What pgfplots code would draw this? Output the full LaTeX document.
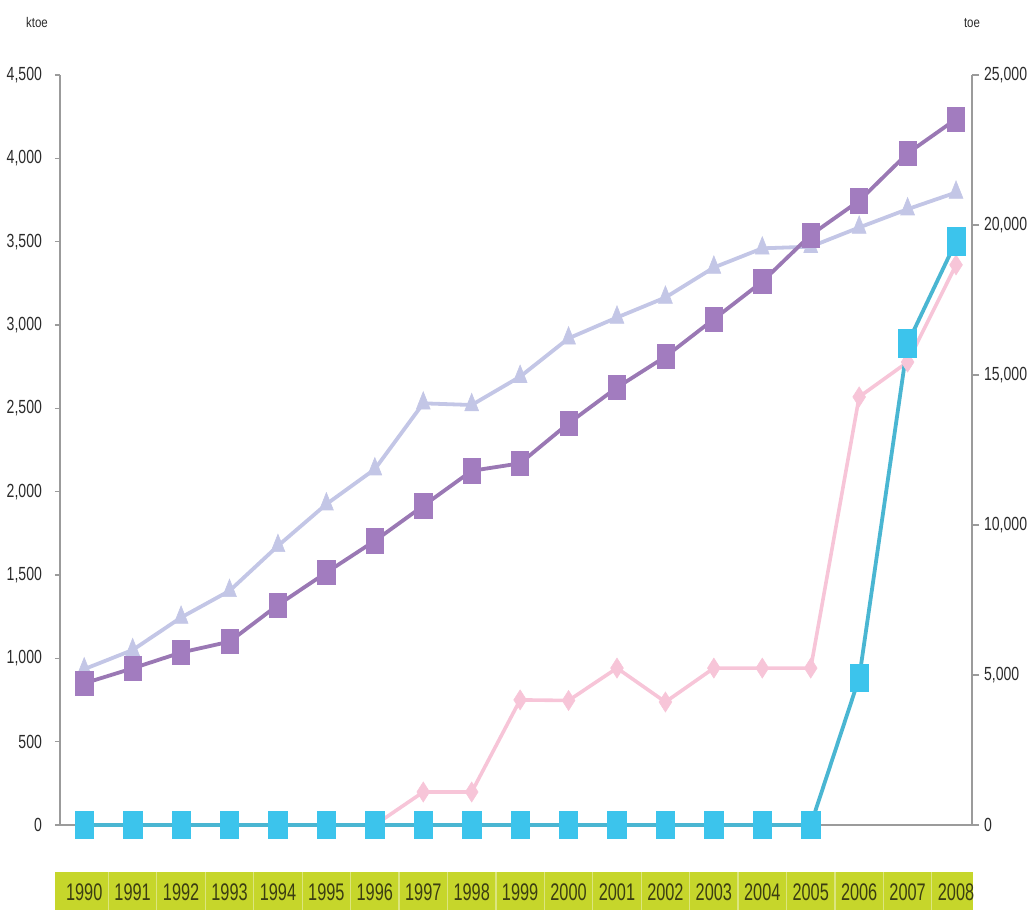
\documentclass[border=0pt]{standalone}
\usepackage{fontspec}
\setmainfont{Liberation Sans}[FakeStretch=0.82]
\newfontfamily\tickfont{Liberation Sans}[FakeStretch=0.74]
\newfontfamily\yearfont{Liberation Sans}[FakeStretch=0.68]
\usepackage{pgfplots}
\usepackage{pgfplotstable}
\pgfplotsset{compat=1.18}

\definecolor{purp}{HTML}{A27CBF}
\definecolor{purpline}{HTML}{9A78B4}
\definecolor{lav}{HTML}{C3C6E6}
\definecolor{pinkc}{HTML}{F7C5D8}
\definecolor{cyanm}{HTML}{3CC4EC}
\definecolor{cyanl}{HTML}{4AB6D2}
\definecolor{axgray}{HTML}{9B9B9B}
\definecolor{stripc}{HTML}{C6D62B}
\definecolor{sepc}{HTML}{DCE57E}
\definecolor{yeartxt}{HTML}{3B3D12}
\definecolor{ticktxt}{HTML}{2A2A2A}

% left axis (ktoe)
\pgfplotstableread{
x purple lav
0 850 935
1 940 1050
2 1035 1245
3 1100 1405
4 1320 1675
5 1515 1925
6 1705 2135
7 1915 2530
8 2125 2520
9 2170 2690
10 2410 2920
11 2625 3045
12 2810 3165
13 3035 3345
14 3260 3460
15 3540 3470
16 3745 3585
17 4030 3695
18 4235 3795
}\leftdata

% right axis (toe)
\pgfplotstableread{
x pink
6 0
7 1100
8 1100
9 4170
10 4150
11 5230
12 4100
13 5230
14 5230
15 5230
16 14270
17 15430
18 18670
}\pinkdata

\pgfplotstableread{
x cyan
0 0
1 0
2 0
3 0
4 0
5 0
6 0
7 0
8 0
9 0
10 0
11 0
12 0
13 0
14 0
15 0
16 4900
17 16050
18 19450
}\cyandata

\pgfplotsset{
  common/.style={
    scale only axis, width=456pt, height=375pt,
    xmin=-0.5, xmax=18.33, ymin=0,
    clip=false,
    tick align=outside,
    axis line style={draw=axgray, line width=1pt},
    ytick style={draw=axgray, line width=0.8pt},
    yticklabel style={font=\tickfont\fontsize{9.5}{10}\selectfont, text=ticktxt,
      /pgf/number format/fixed, /pgf/number format/1000 sep={,},
      /pgf/number format/assume math mode=true},
    scaled y ticks=false,
  }
}

\begin{document}
\begin{tikzpicture}
\begin{axis}[common, set layers,
  ymax=4500,
  axis y line*=left, axis x line*=bottom,
  ytick={0,500,...,4500},
  major tick length=2.5pt,
  yticklabel style={xshift=-3pt},
  xtick={0,...,18},
  xticklabels={1990,1991,1992,1993,1994,1995,1996,1997,1998,1999,2000,2001,2002,2003,2004,2005,2006,2007,2008},
  xtick style={draw=none},
  xticklabel style={anchor=center, yshift=-31pt, text=yeartxt, font=\yearfont\fontsize{12}{12}\selectfont},
]
\coordinate (bl) at (rel axis cs:0,0);
\coordinate (tr) at (rel axis cs:1,1);
\begin{pgfonlayer}{axis background}
\fill[stripc] ([yshift=-23.5pt]axis cs:-0.6,0) rectangle ([yshift=-42.5pt]axis cs:18.36,0);
\pgfplotsinvokeforeach{0.5,1.5,...,17.5}{
  \draw[sepc, line width=0.6pt] ([yshift=-23.5pt]axis cs:#1,0) -- ([yshift=-42.5pt]axis cs:#1,0);
}
\end{pgfonlayer}
\addplot[lav, line width=1.9pt, mark=triangle*, mark size=4pt,
  mark options={fill=lav, draw=lav, yscale=1.45, line width=0.3pt}]
  table[x=x, y=lav] {\leftdata};
\addplot[purpline, line width=1.9pt, mark=square*, mark size=4.3pt,
  mark options={fill=purp, draw=purp, yscale=1.4, line width=0.3pt}]
  table[x=x, y=purple] {\leftdata};
\node[font=\fontsize{7}{8}\selectfont, text=ticktxt] at ([xshift=-11.5pt,yshift=26pt]rel axis cs:0,1) {ktoe};
\node[font=\fontsize{7}{8}\selectfont, text=ticktxt] at ([yshift=26pt]rel axis cs:1,1) {toe};
\end{axis}

\begin{axis}[common,
  ymax=25000,
  axis y line*=right, axis x line=none,
  ytick={0,5000,...,25000},
  major tick length=3.5pt,
  yticklabel style={xshift=-1pt},
]
\addplot[pinkc, line width=1.8pt, mark=diamond*, mark size=5pt,
  mark options={fill=pinkc, draw=pinkc, xscale=0.85, line width=0.3pt}]
  table[x=x, y=pink] {\pinkdata};
\addplot[cyanl, line width=1.9pt, mark=square*, mark size=4.6pt,
  mark options={fill=cyanm, draw=cyanm, yscale=1.5, line width=0.3pt}]
  table[x=x, y=cyan] {\cyandata};
\end{axis}
\pgfresetboundingbox
\path[use as bounding box] ([shift={(-30pt,-42.5pt)}]bl) rectangle ([shift={(30.5pt,37.5pt)}]tr);
\end{tikzpicture}
\end{document}
